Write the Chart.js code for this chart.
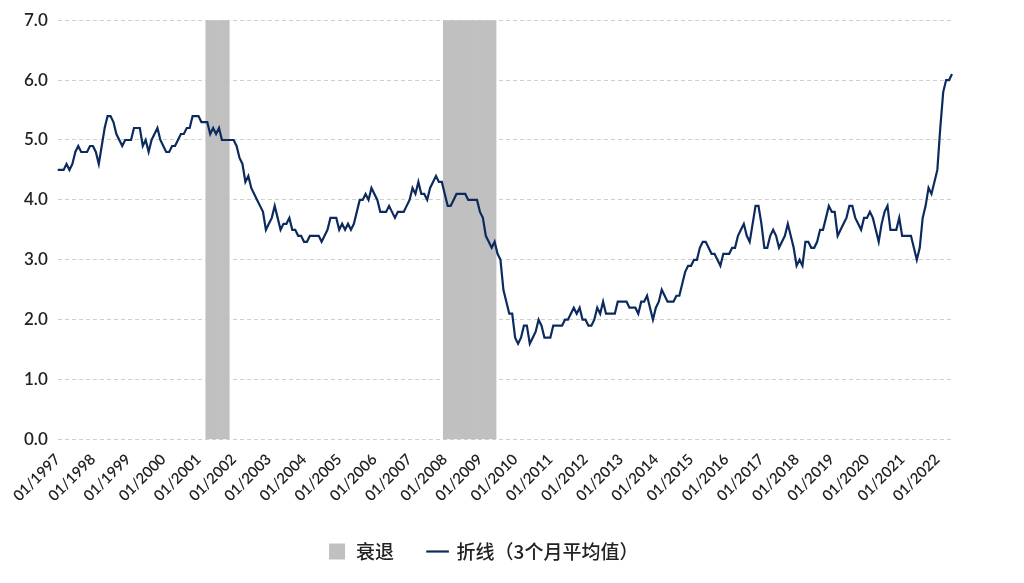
<!DOCTYPE html>
<html>
<head>
<meta charset="utf-8">
<script src="https://cdn.jsdelivr.net/npm/chart.js@4/dist/chart.umd.min.js"></script>
<style>
  html, body { margin: 0; padding: 0; background: #fff; }
  #wrap { width: 1024px; height: 583px; }
</style>
</head>
<body>
<div id="wrap"><canvas id="chart"></canvas></div>
<script>
const start_year = 1997;
// monthly values, one row per year, 3-month average
const values_by_year = [
    [4.5,4.5,4.5,4.6,4.5,4.6,4.8,4.9,4.8,4.8,4.8,4.9],
    [4.9,4.8,4.6,4.9,5.2,5.4,5.4,5.3,5.1,5.0,4.9,5.0],
    [5.0,5.0,5.2,5.2,5.2,4.9,5.0,4.8,5.0,5.1,5.2,5.0],
    [4.9,4.8,4.8,4.9,4.9,5.0,5.1,5.1,5.2,5.2,5.4,5.4],
    [5.4,5.3,5.3,5.3,5.1,5.2,5.1,5.2,5.0,5.0,5.0,5.0],
    [5.0,4.9,4.7,4.6,4.3,4.4,4.2,4.1,4.0,3.9,3.8,3.5],
    [3.6,3.7,3.9,3.7,3.5,3.6,3.6,3.7,3.5,3.5,3.4,3.4],
    [3.3,3.3,3.4,3.4,3.4,3.4,3.3,3.4,3.5,3.7,3.7,3.7],
    [3.5,3.6,3.5,3.6,3.5,3.6,3.8,4.0,4.0,4.1,4.0,4.2],
    [4.1,4.0,3.8,3.8,3.8,3.9,3.8,3.7,3.8,3.8,3.8,3.9],
    [4.0,4.2,4.1,4.3,4.1,4.1,4.0,4.2,4.3,4.4,4.3,4.3],
    [4.1,3.9,3.9,4.0,4.1,4.1,4.1,4.1,4.0,4.0,4.0,4.0],
    [3.8,3.7,3.4,3.3,3.2,3.3,3.1,3.0,2.5,2.3,2.1,2.1],
    [1.7,1.6,1.7,1.9,1.9,1.6,1.7,1.8,2.0,1.9,1.7,1.7],
    [1.7,1.9,1.9,1.9,1.9,2.0,2.0,2.1,2.2,2.1,2.2,2.0],
    [2.0,1.9,1.9,2.0,2.2,2.1,2.3,2.1,2.1,2.1,2.1,2.3],
    [2.3,2.3,2.3,2.2,2.2,2.2,2.1,2.3,2.3,2.4,2.2,2.0],
    [2.2,2.3,2.5,2.4,2.3,2.3,2.3,2.4,2.4,2.6,2.8,2.9],
    [2.9,3.0,3.0,3.2,3.3,3.3,3.2,3.1,3.1,3.0,2.9,3.1],
    [3.1,3.1,3.2,3.2,3.4,3.5,3.6,3.4,3.3,3.6,3.9,3.9],
    [3.6,3.2,3.2,3.4,3.5,3.4,3.2,3.3,3.4,3.6,3.4,3.2],
    [2.9,3.0,2.9,3.3,3.3,3.2,3.2,3.3,3.5,3.5,3.7,3.9],
    [3.8,3.8,3.4,3.5,3.6,3.7,3.9,3.9,3.7,3.6,3.5,3.7],
    [3.7,3.8,3.7,3.5,3.3,3.6,3.8,3.9,3.5,3.5,3.5,3.7],
    [3.4,3.4,3.4,3.4,3.2,3.0,3.2,3.7,3.9,4.2,4.1,4.3],
    [4.5,5.2,5.8,6.0,6.0,6.1]
];
// recession periods [first month, last month]
const recessions = [['04/2001', '11/2001'], ['01/2008', '06/2009']];
const y_ticks = [0, 1, 2, 3, 4, 5, 6, 7];

const labels = [];
const line_values = [];
values_by_year.forEach((row, i) => {
    row.forEach((v, m) => {
        labels.push(String(m + 1).padStart(2, '0') + '/' + (start_year + i));
        line_values.push(v);
    });
});
const recession_values = labels.map(() => null);
recessions.forEach(([a, b]) => {
    for (let i = labels.indexOf(a); i <= labels.indexOf(b); i++) recession_values[i] = 7;
});

new Chart(document.getElementById('chart'), {
    data: {
        labels: labels,
        datasets: [{
            type: 'line',
            label: '折线（3个月平均值）',
            data: line_values,
            borderColor: '#0b2a5e',
            backgroundColor: '#0b2a5e',
            borderWidth: 2.2,
            pointRadius: 0,
            tension: 0,
            order: 1,
            pointStyle: 'line'
        }, {
            type: 'bar',
            label: '衰退',
            data: recession_values,
            backgroundColor: '#c0c0c0',
            barPercentage: 1,
            categoryPercentage: 1,
            order: 2,
            pointStyle: 'rect'
        }]
    },
    options: {
        responsive: true,
        maintainAspectRatio: false,
        animation: false,
        layout: { padding: { left: 14, right: 72, top: 10, bottom: 12 } },
        plugins: {
            tooltip: { enabled: false },
            legend: {
                position: 'bottom',
                reverse: true,
                labels: {
                    usePointStyle: true,
                    boxWidth: 44,
                    boxHeight: 16,
                    padding: 34,
                    color: '#222',
                    font: { family: '"Noto Sans CJK SC", "Noto Sans"', size: 19, weight: '500' }
                }
            }
        },
        scales: {
            x: {
                offset: false,
                grid: { display: false },
                border: { display: false },
                ticks: {
                    autoSkip: false,
                    maxRotation: 45,
                    minRotation: 45,
                    color: '#222',
                    font: { family: 'Lato, "Noto Sans"', size: 15, weight: '600' },
                    callback: function (value) {
                        const l = labels[value];
                        return l.startsWith('01/') ? l : null;
                    }
                }
            },
            y: {
                min: 0,
                max: 7,
                afterBuildTicks: axis => { axis.ticks = y_ticks.map(v => ({ value: v })); },
                border: { display: false, dash: [4, 3] },
                grid: { color: '#cfcfcf', drawTicks: false },
                ticks: {
                    padding: 10,
                    color: '#222',
                    font: { family: 'Lato, "Noto Sans"', size: 17, weight: '600' },
                    callback: v => v.toFixed(1)
                }
            }
        }
    }
});
</script>
</body>
</html>
